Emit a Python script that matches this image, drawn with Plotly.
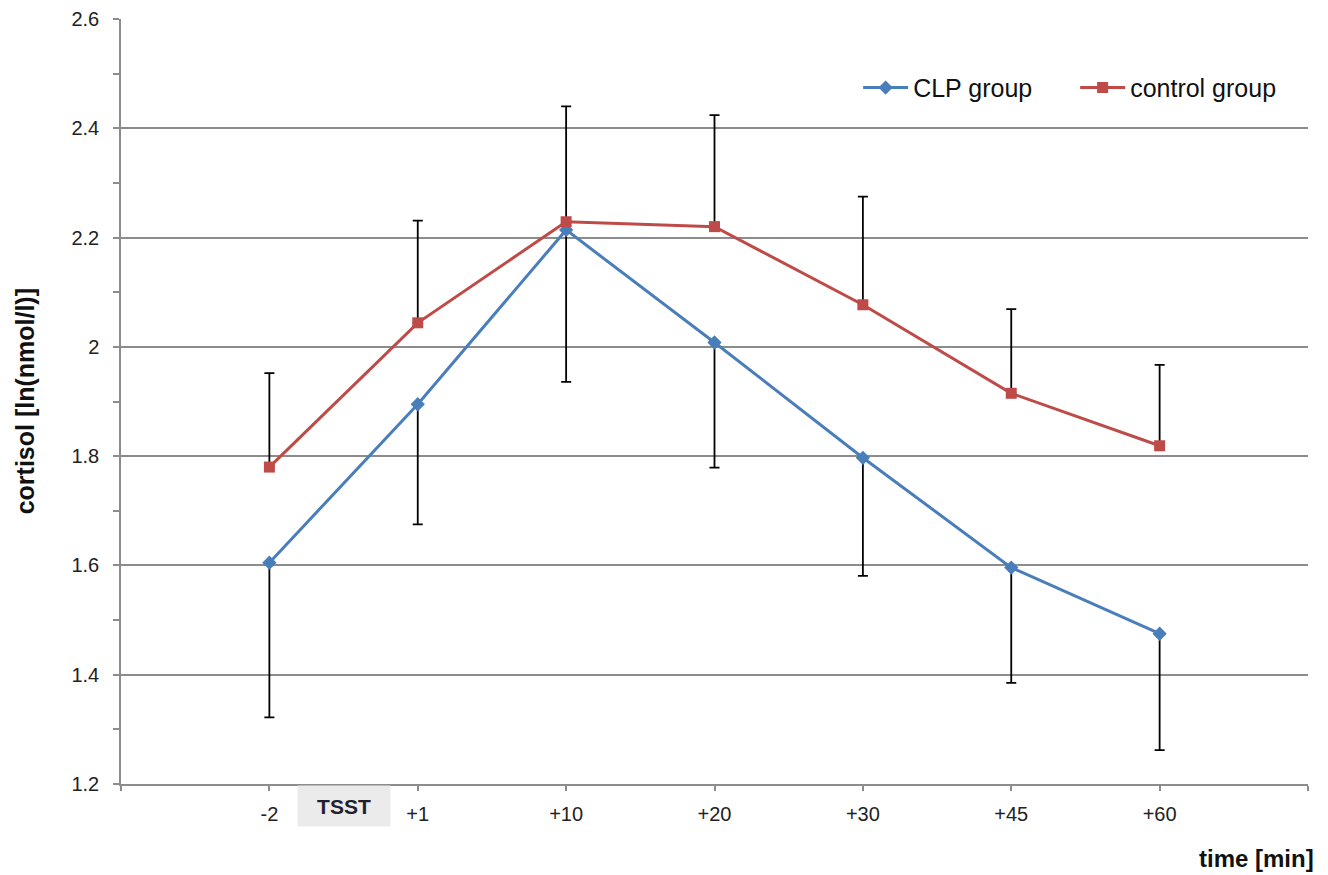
import plotly.graph_objects as go

# ---- data ----
time_labels = ["-2", "+1", "+10", "+20", "+30", "+45", "+60"]
x_pos = [1, 2, 3, 4, 5, 6, 7]

clp_mean = [1.605, 1.895, 2.214, 2.008, 1.797, 1.596, 1.475]
clp_lower = [1.322, 1.675, 1.936, 1.779, 1.581, 1.385, 1.262]

ctrl_mean = [1.780, 2.044, 2.229, 2.220, 2.077, 1.915, 1.819]
ctrl_upper = [1.952, 2.231, 2.440, 2.424, 2.275, 2.069, 1.967]

clp_err_minus = [m - l for m, l in zip(clp_mean, clp_lower)]
ctrl_err_plus = [u - m for m, u in zip(ctrl_mean, ctrl_upper)]
zeros = [0] * len(x_pos)

BLUE = "#4A7EBB"
RED = "#BE4B48"
GRID = "#8c8c8c"
FONT = "Arial, Liberation Sans, sans-serif"

fig = go.Figure()

# error bars (drawn beneath the lines/markers)
fig.add_trace(go.Scatter(
    x=x_pos, y=clp_mean, mode="markers",
    marker=dict(size=1, opacity=0),
    error_y=dict(type="data", symmetric=False, array=zeros, arrayminus=clp_err_minus,
                 color="black", thickness=1.8, width=5),
    showlegend=False, hoverinfo="skip"))
fig.add_trace(go.Scatter(
    x=x_pos, y=ctrl_mean, mode="markers",
    marker=dict(size=1, opacity=0),
    error_y=dict(type="data", symmetric=False, array=ctrl_err_plus, arrayminus=zeros,
                 color="black", thickness=1.8, width=5),
    showlegend=False, hoverinfo="skip"))

fig.add_trace(go.Scatter(
    x=x_pos, y=clp_mean, mode="lines+markers", name="CLP group",
    line=dict(color=BLUE, width=3),
    marker=dict(symbol="diamond", size=11, color=BLUE)))
fig.add_trace(go.Scatter(
    x=x_pos, y=ctrl_mean, mode="lines+markers", name="control group",
    line=dict(color=RED, width=3),
    marker=dict(symbol="square", size=11, color=RED)))

fig.update_layout(
    width=1328, height=875,
    margin=dict(l=121, r=20, t=19, b=91, autoexpand=False),
    paper_bgcolor="white", plot_bgcolor="white",
    font=dict(family=FONT, color="#222222"),
    legend=dict(orientation="h", x=0.621, xanchor="left", y=0.91, yanchor="middle",
                font=dict(size=25, family=FONT, color="#111111"),
                bgcolor="rgba(0,0,0,0)", entrywidth=157, itemwidth=45),
    xaxis=dict(range=[0, 8], tickmode="array",
               tickvals=[0] + x_pos + [8],
               ticktext=[""] + time_labels + [""],
               showgrid=False, zeroline=False,
               showline=True, linecolor=GRID, linewidth=1.5,
               ticks="outside", ticklen=5, tickcolor=GRID, tickwidth=1.5,
               tickfont=dict(size=20, family=FONT, color="#222222"),
               ticklabelstandoff=6, automargin=False),
    yaxis=dict(range=[1.2, 2.6], tickmode="linear", tick0=1.2, dtick=0.2,
               tickformat="~g",
               showgrid=True, gridcolor=GRID, gridwidth=1.5, zeroline=False,
               showline=True, linecolor=GRID, linewidth=1.5,
               ticks="outside", ticklen=6, tickcolor=GRID, tickwidth=1.5,
               minor=dict(dtick=0.1, tick0=1.2, ticks="outside", ticklen=6,
                          tickcolor=GRID, tickwidth=1.5, showgrid=False),
               tickfont=dict(size=20, family=FONT, color="#222222"),
               ticklabelstandoff=10, automargin=False),
    hovermode=False,
)

fig.add_annotation(text="<b>cortisol [ln(nmol/l)]</b>", textangle=-90,
                   xref="paper", yref="paper", x=-0.081, y=0.5,
                   xanchor="center", yanchor="middle", showarrow=False,
                   font=dict(size=25, family=FONT, color="#111111"))
fig.add_annotation(text="<b>time [min]</b>",
                   xref="paper", yref="paper", x=1.0067, y=-0.097,
                   xanchor="right", yanchor="middle", showarrow=False,
                   font=dict(size=24, family=FONT, color="#111111"))
fig.add_annotation(text="<b>TSST</b>",
                   xref="x", yref="paper", x=1.5, y=-0.029,
                   xanchor="center", yanchor="middle", showarrow=False,
                   bgcolor="#ebebeb", width=90, height=38,
                   font=dict(size=21, family=FONT, color="#1f1f2e"))

fig.write_html(
    "out.html",
    config={"displayModeBar": False},
    post_script="document.body.style.margin='0';document.body.style.overflow='hidden';",
)
